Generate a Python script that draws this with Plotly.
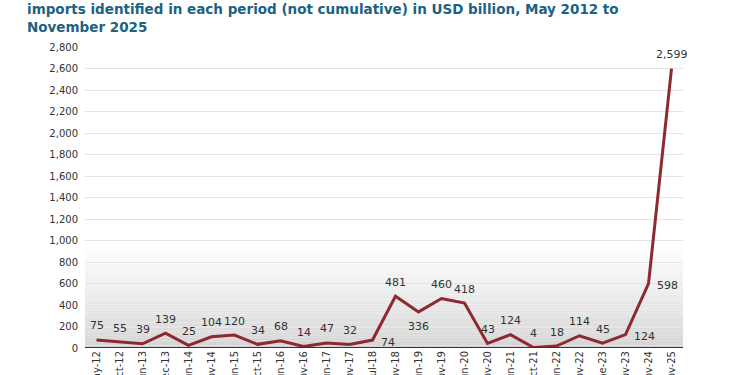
import plotly.graph_objects as go

labels = ["May-12", "Oct-12", "Jun-13", "Dec-13", "Jun-14", "Nov-14", "Jun-15", "Oct-15",
          "Jun-16", "Nov-16", "Jun-17", "Nov-17", "Jul-18", "Nov-18", "Jun-19", "Nov-19",
          "Jun-20", "Nov-20", "Jun-21", "Oct-21", "Jun-22", "Nov-22", "June-23", "Nov-23",
          "Nov-24", "Nov-25"]
values = [75, 55, 39, 139, 25, 104, 120, 34, 68, 14, 47, 32, 74, 481, 336, 460, 418,
          43, 124, 4, 18, 114, 45, 124, 598, 2599]
label_pos = ["top"] * len(values)
label_pos[12] = "right"
label_pos[14] = "bottom"
label_pos[23] = "right"
label_pos[24] = "right"

y_ticks = list(range(0, 2801, 200))
x_idx = list(range(len(values)))

FONT = "DejaVu Sans"
LINE = "#8c2a2f"

fig = go.Figure()
fig.add_trace(go.Scatter(x=x_idx, y=values, mode="lines",
                         line=dict(color=LINE, width=3), hoverinfo="skip"))

# gradient background
N = 40
top = 950
for i in range(N):
    t = i / N
    c = int(round(212 + (255 - 212) * (t ** 0.9)))
    fig.add_shape(type="rect", xref="x domain", yref="y", x0=0, x1=1,
                  y0=top * i / N, y1=top * (i + 1) / N,
                  fillcolor=f"rgb({c},{c},{c})", line=dict(width=0), layer="below")

for i, (v, p) in enumerate(zip(values, label_pos)):
    xs, ys = 0, 14
    xa = "center"
    if p == "bottom":
        ys = -15
    elif p == "right":
        xs, ys, xa = 6, -2, "left"
    fig.add_annotation(x=i, y=v, text=f"{v:,}", showarrow=False, xshift=xs, yshift=ys,
                       xanchor=xa, font=dict(family=FONT, size=11, color="#333333"))

fig.add_annotation(xref="paper", yref="paper", x=-0.101, y=1.161, xanchor="left", yanchor="top",
                   align="left", showarrow=False,
                   text="<b>imports identified in each period (not cumulative) in USD billion, May 2012 to<br>November 2025</b>",
                   font=dict(family=FONT, size=13.5, color="#1b6283"))

fig.update_layout(
    width=750, height=375,
    margin=dict(l=85, r=67, t=47, b=27, autoexpand=False),
    paper_bgcolor="white", plot_bgcolor="white",
    showlegend=False,
    xaxis=dict(range=[-0.5, 25.5], tickmode="array", tickvals=x_idx, ticktext=labels,
               tickangle=-90, showgrid=False, zeroline=False, showline=False, automargin=False,
               tickfont=dict(family=FONT, size=10, color="#333333")),
    yaxis=dict(range=[0, 2800], tickmode="array", tickvals=y_ticks, automargin=False,
               ticktext=[f"{t:,}" for t in y_ticks], showgrid=True, gridcolor="#e4e4e4",
               gridwidth=1, zeroline=False, showline=False, ticklabelstandoff=6,
               tickfont=dict(family=FONT, size=10, color="#333333")),
)
fig.add_shape(type="line", xref="x domain", yref="y", x0=0, x1=1, y0=0, y1=0,
              line=dict(color="#333333", width=2))

fig.write_html("out.html", config={"displayModeBar": False},
               post_script="document.body.style.margin='0';")
